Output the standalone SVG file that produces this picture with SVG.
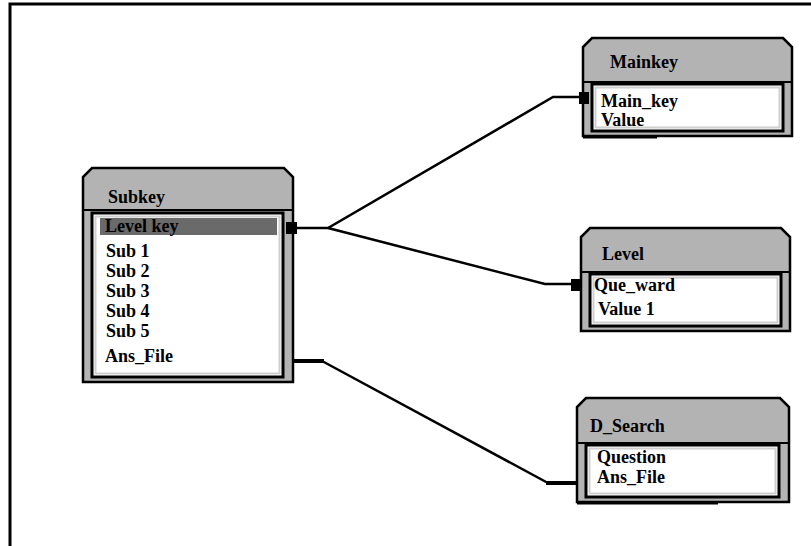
<svg xmlns="http://www.w3.org/2000/svg" width="811" height="546" viewBox="0 0 811 546">
<style>
.hdr{fill:#b3b3b3;stroke:#000;stroke-width:2.5;stroke-linejoin:miter}
.sep{stroke:#000;stroke-width:2}
.box{fill:#fff;stroke:#000;stroke-width:3}
.hl{fill:none;stroke:#cfcfcf;stroke-width:2}
.t{font-family:"Liberation Serif","Times New Roman",serif;font-size:18px;font-weight:bold;fill:#000}
.ln{fill:none;stroke:#000;stroke-width:2.5;stroke-linejoin:miter}
.thk{fill:none;stroke:#000;stroke-width:4}
.port{fill:#000}
</style>
<rect x="0" y="0" width="811" height="546" fill="#fff"/>
<path d="M10,546 V4 H811" fill="none" stroke="#000" stroke-width="3"/>

<g id="Subkey">
  <path class="hdr" d="M83,382 V177 L92,168 H284 L293,177 V382 Z"/>
  <line class="sep" x1="83" y1="210" x2="293" y2="210"/>
  <rect class="box" x="92" y="213" width="191" height="164"/>
  <rect class="hl" x="95.5" y="216.5" width="184" height="157"/>
  <rect x="100" y="218" width="177" height="17" fill="#6a6a6a"/>
  <text class="t" x="108" y="203">Subkey</text>
  <text class="t" x="105" y="232" fill="#1a1a1a">Level key</text>
  <text class="t" x="106" y="257">Sub 1</text>
  <text class="t" x="106" y="277">Sub 2</text>
  <text class="t" x="106" y="297">Sub 3</text>
  <text class="t" x="106" y="317">Sub 4</text>
  <text class="t" x="106" y="337">Sub 5</text>
  <text class="t" x="105" y="362">Ans_File</text>
</g>

<g id="Mainkey">
  <path class="hdr" d="M583,136 V47 L592,38 H783 L792,47 V136 Z"/>
  <line class="sep" x1="583" y1="82" x2="792" y2="82"/>
  <rect class="box" x="592" y="84" width="191" height="47"/>
  <rect class="hl" x="595.5" y="87.5" width="184" height="40"/>
  <line x1="583" y1="137.5" x2="657" y2="137.5" stroke="#000" stroke-width="2"/>
  <text class="t" x="610" y="68">Mainkey</text>
  <text class="t" x="601" y="107">Main_key</text>
  <text class="t" x="601" y="126">Value</text>
</g>

<g id="Level">
  <path class="hdr" d="M581,331 V237 L590,228 H781 L790,237 V331 Z"/>
  <line class="sep" x1="581" y1="272" x2="790" y2="272"/>
  <rect class="box" x="590" y="274" width="191" height="52"/>
  <rect class="hl" x="593.5" y="277.5" width="184" height="45"/>
  <text class="t" x="602" y="260">Level</text>
  <text class="t" x="594" y="291">Que_ward</text>
  <text class="t" x="598" y="315">Value 1</text>
</g>

<g id="D_Search">
  <path class="hdr" d="M577,502 V407 L586,398 H780 L789,407 V502 Z"/>
  <line class="sep" x1="577" y1="443" x2="789" y2="443"/>
  <rect class="box" x="586" y="445" width="193" height="52"/>
  <rect class="hl" x="589.5" y="448.5" width="186" height="45"/>
  <line x1="577" y1="503.5" x2="718" y2="503.5" stroke="#000" stroke-width="2"/>
  <text class="t" x="590" y="432">D_Search</text>
  <text class="t" x="597" y="463">Question</text>
  <text class="t" x="597" y="483">Ans_File</text>
</g>

<g id="connectors">
  <path class="ln" d="M297,228 H328 L553,97 H580"/>
  <path class="ln" d="M328,228 L545,284 H572"/>
  <path class="ln" d="M322,361 L548,483"/>
  <path class="thk" d="M293,361 H324"/>
  <path class="thk" d="M546,483 H577"/>
  <rect class="port" x="286" y="222" width="11" height="12"/>
  <rect class="port" x="579" y="92" width="10" height="12"/>
  <rect class="port" x="571" y="279" width="11" height="12"/>
</g>
</svg>
